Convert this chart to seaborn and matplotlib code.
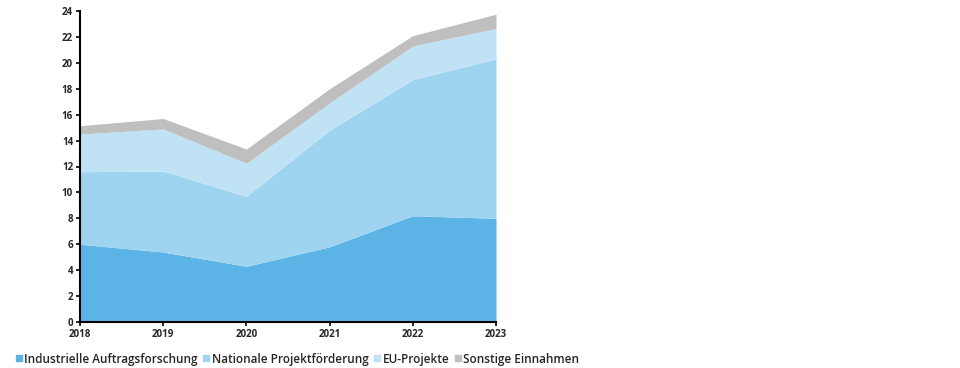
import matplotlib
matplotlib.use("Agg")
import matplotlib.pyplot as plt
import seaborn as sns
import numpy as np
from matplotlib.lines import Line2D

years = [2018, 2019, 2020, 2021, 2022, 2023]
industrie = [6.0, 5.4, 4.3, 5.8, 8.2, 8.0]
national = [5.6, 6.25, 5.4, 9.0, 10.5, 12.3]
eu = [2.9, 3.25, 2.55, 2.1, 2.6, 2.35]
sonstige = [0.65, 0.8, 1.1, 1.1, 0.8, 1.1]
labels = ["Industrielle Auftragsforschung", "Nationale Projektförderung",
          "EU-Projekte", "Sonstige Einnahmen"]
colors = ["#5BB4E5", "#9FD4F0", "#C0E2F5", "#BFBFBF"]

sns.set_theme(style="white")
plt.rcParams['font.family'] = ['Open Sans', 'DejaVu Sans']

fig = plt.figure(figsize=(9.6, 3.68), dpi=100)
ax = fig.add_axes([80/960, 1-322/368, 416/960, 311/368])

ax.stackplot(years, industrie, national, eu, sonstige, colors=colors,
             labels=labels, linewidth=0)
ax.set_xlim(2018, 2023)
ax.set_ylim(0, 24)
ax.set_xticks(years)
ax.set_yticks(np.arange(0, 25, 2))
for s in ["top", "right"]:
    ax.spines[s].set_visible(False)
for s in ["left", "bottom"]:
    ax.spines[s].set_color("black")
    ax.spines[s].set_linewidth(1.5)
ax.tick_params(axis="both", which="major", direction="out", length=3, width=1.2,
               color="black", labelsize=7, pad=2)
ax.tick_params(axis="y", left=True)
ax.tick_params(axis="x", bottom=True)
for lab in ax.get_xticklabels() + ax.get_yticklabels():
    lab.set_fontweight("bold")
ax.grid(False)

handles = [Line2D([0], [0], marker='s', linestyle='', markersize=5,
                  markerfacecolor=c, markeredgecolor=c) for c in colors]
fig.legend(handles, labels, loc="center left", bbox_to_anchor=(15/960, 1-359/368),
           ncol=4, frameon=False, handletextpad=0.15,
           columnspacing=0.45, handlelength=0.6, borderpad=0, borderaxespad=0,
           prop={'family': ['Open Sans', 'DejaVu Sans'], 'weight': 'semibold', 'size': 8.5})

fig.savefig("out.png", dpi=100)
